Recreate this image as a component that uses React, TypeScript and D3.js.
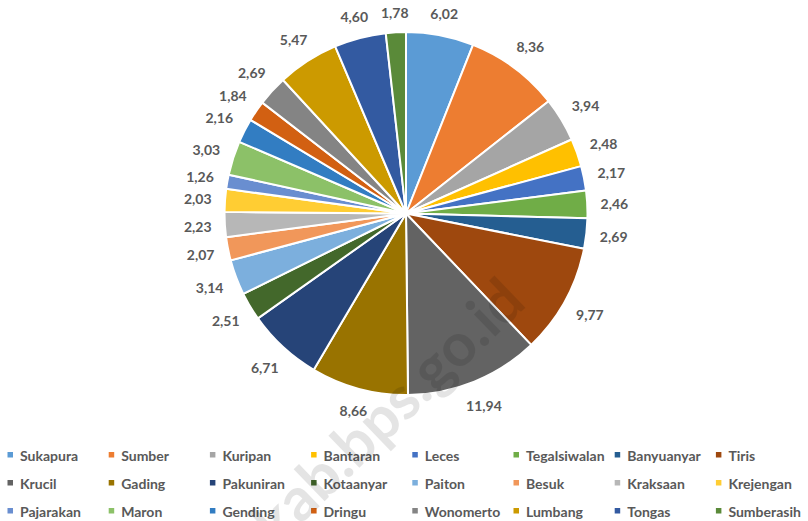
import React from "react";
import * as d3 from "d3";

const categories = [
  "Sukapura", "Sumber", "Kuripan", "Bantaran", "Leces", "Tegalsiwalan", "Banyuanyar", "Tiris",
  "Krucil", "Gading", "Pakuniran", "Kotaanyar", "Paiton", "Besuk", "Kraksaan", "Krejengan",
  "Pajarakan", "Maron", "Gending", "Dringu", "Wonomerto", "Lumbang", "Tongas", "Sumberasih",
];
const values = [
  6.02, 8.36, 3.94, 2.48, 2.17, 2.46, 2.69, 9.77,
  11.94, 8.66, 6.71, 2.51, 3.14, 2.07, 2.23, 2.03,
  1.26, 3.03, 2.16, 1.84, 2.69, 5.47, 4.60, 1.78,
];
const colors = [
  "#5B9BD5", "#ED7D31", "#A5A5A5", "#FFC000", "#4472C4", "#70AD47", "#255E91", "#9E480E",
  "#636363", "#997300", "#264478", "#43682B", "#7CAFDD", "#F1975A", "#B7B7B7", "#FFCD33",
  "#698ED0", "#8CC168", "#327DC2", "#D26012", "#848484", "#CC9A00", "#335AA1", "#5A8A39",
];

const W = 808;
const H = 521;
const cx = 406;
const cy = 213.5;
const R = 181.5;
const FONT = "Lato, 'Open Sans', sans-serif";
const TEXT = "#595959";

export default function App() {
  const pie = d3.pie<number>().sort(null).value((d) => d);
  const arcs = pie(values);
  const arc = d3.arc<d3.PieArcDatum<number>>().innerRadius(0).outerRadius(R);

  const fmt = (v: number) => v.toFixed(2).replace(".", ",");

  return (
    <svg
      width={W}
      height={H}
      style={{ position: "absolute", left: 0, top: 0, background: "#fff" }}
      fontFamily={FONT}
    >
      <g transform={`translate(${cx},${cy})`}>
        {arcs.map((a, i) => (
          <path key={i} d={arc(a) || ""} fill={colors[i]} stroke="#fff" strokeWidth={2} strokeLinejoin="round" />
        ))}
        {arcs.map((a, i) => {
          const mid = (a.startAngle + a.endAngle) / 2;
          const s = Math.sin(mid);
          const c = Math.cos(mid);
          const txt = fmt(values[i]);
          const w = txt.length * 7.4;
          const h = 14;
          const dist = R + 12 + (w / 2) * Math.abs(s) + (h / 2) * Math.abs(c);
          return (
            <text
              key={"l" + i}
              x={dist * s}
              y={-dist * c}
              textAnchor="middle"
              dominantBaseline="central"
              fontSize={14}
              fontWeight={700}
              fill={TEXT}
            >
              {txt}
            </text>
          );
        })}
      </g>
      <g>
        {categories.map((name, i) => {
          const col = i % 8;
          const row = Math.floor(i / 8);
          const x = 7.5 + col * 101.2;
          const y = 455 + row * 28;
          return (
            <g key={"lg" + i} transform={`translate(${x},${y})`}>
              <rect x={0} y={-3} width={5.5} height={5.5} fill={colors[i]} />
              <text x={12.5} y={0} dominantBaseline="central" fontSize={14} fontWeight={700} fill={TEXT}>
                {name}
              </text>
            </g>
          );
        })}
      </g>
      <text
        x={528}
        y={305}
        transform="rotate(-44 528 305)"
        textAnchor="end"
        fontSize={60}
        fontWeight={700}
        fill="#000"
        opacity={0.1}
        fontFamily={FONT}
      >
        probolinggokab.bps.go.id
      </text>
    </svg>
  );
}
